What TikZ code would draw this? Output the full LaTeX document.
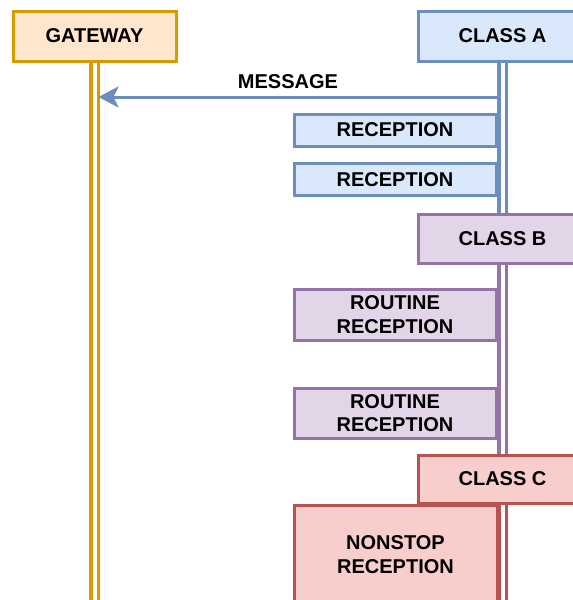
\documentclass[tikz,border=0pt]{standalone}
\usepackage{fontspec}
\setmainfont{Liberation Sans}
\usetikzlibrary{arrows.meta}
\definecolor{orS}{HTML}{D79B00}\definecolor{orF}{HTML}{FFE6CC}
\definecolor{blS}{HTML}{6C8EBF}\definecolor{blF}{HTML}{DAE8FC}
\definecolor{puS}{HTML}{9673A6}\definecolor{puF}{HTML}{E1D5E7}
\definecolor{reS}{HTML}{B85450}\definecolor{reF}{HTML}{F8CECC}
\tikzset{
  box/.style={draw, line width=3pt, inner sep=0pt, align=center,
    font=\fontsize{20}{23.5}\selectfont\bfseries},
  orbox/.style={box, draw=orS, fill=orF},
  blbox/.style={box, draw=blS, fill=blF},
  pubox/.style={box, draw=puS, fill=puF},
  rebox/.style={box, draw=reS, fill=reF},
  life/.style={line width=3.5pt, double=white, double distance=4pt},
  msg/.style={draw=blS, line width=3pt, -{Stealth[length=20pt,width=21pt,inset=5pt]}},
  lbl/.style={font=\fontsize{20}{23.5}\selectfont\bfseries, inner sep=0pt}
}
\begin{document}
\begin{tikzpicture}[x=1pt,y=-1pt]
\useasboundingbox (0,0) rectangle (573,600);
\clip (0,0) rectangle (573,600);
% header boxes
\node[orbox, minimum width=163pt, minimum height=50pt] (gw) at (94.5,36) {GATEWAY};
\node[blbox, minimum width=168.5pt, minimum height=50pt] (ca) at (502.5,36) {CLASS A};
\node[pubox, minimum width=168.5pt, minimum height=49pt] (cb) at (502.5,238.5) {CLASS B};
\node[rebox, minimum width=168.5pt, minimum height=48pt] (cc) at (502.5,479) {CLASS C};
% lifeline ends
\coordinate (gwEnd) at (94.5,605);
\coordinate (ccEnd) at (502.5,605);
% lifelines
\draw[life, orS] (gw.south) -- (gwEnd);
\draw[life, blS] (ca.south) -- (cb.north);
\draw[life, puS] (cb.south) -- (cc.north);
\draw[life, reS] (cc.south) -- (ccEnd);
% message
\coordinate (msgS) at (497,97);
\coordinate (msgE) at (98.5,97);
\draw[msg] (msgS) -- (msgE);
\node[lbl] (msgL) at (288,82) {MESSAGE};
% activity boxes
\node[blbox, minimum width=202pt, minimum height=32pt] (r1) at (395,130) {RECEPTION};
\node[blbox, minimum width=202pt, minimum height=32pt] (r2) at (395,179.5) {RECEPTION};
\node[pubox, minimum width=202pt, minimum height=51pt] (rr1) at (395,314.5) {ROUTINE\\RECEPTION};
\node[pubox, minimum width=202pt, minimum height=50pt] (rr2) at (395,413) {ROUTINE\\RECEPTION};
\node[rebox, minimum width=203pt, minimum height=98pt] (nr) at (395.5,554.5) {NONSTOP\\RECEPTION};
\end{tikzpicture}
\end{document}
